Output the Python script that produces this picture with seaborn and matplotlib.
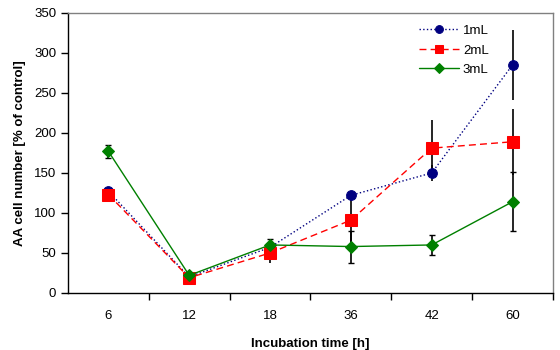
import matplotlib
matplotlib.use("Agg")
from matplotlib import pyplot as plt
import seaborn as sns
import pandas as pd

# incubation time categories
times = ['6', '12', '18', '36', '42', '60']

ml1 = [127, 20, 57, 122, 150, 285]
ml1_err = [3, 2, 5, 5, 10, 44]
ml2 = [123, 19, 50, 91, 181, 189]
ml2_err = [3, 2, 12, 30, 35, 41]
ml3 = [177, 22, 60, 58, 60, 114]
ml3_err = [8, 2, 7, 20, 12, 37]

sns.set_style("ticks")
plt.rcParams['font.family'] = ['Liberation Sans', 'DejaVu Sans']
for key in ['text.color', 'axes.labelcolor', 'xtick.color', 'ytick.color']:
    plt.rcParams[key] = 'black'

fig = plt.figure(figsize=(5.6, 3.5), dpi=100)
axes = fig.add_axes([0.1214, 0.163, 0.866, 0.8])

pos = list(range(len(times)))
series = [
    ('1mL', ml1, ml1_err, '#000080', ':', 'o', 7, 0),
    ('2mL', ml2, ml2_err, '#FF0000', (0, (5, 3)), 's', 8, 0),
    ('3mL', ml3, ml3_err, '#008000', '-', 'D', 6.5, 2.5),
]

for name, vals, errs, color, ls, mk, ms, cap in series:
    axes.errorbar(pos, vals, yerr=errs, fmt='none', ecolor='black',
                  elinewidth=1.2, capsize=cap, capthick=1.0, zorder=2)

for name, vals, errs, color, ls, mk, ms, cap in series:
    df = pd.DataFrame({'x': pos, 'y': vals})
    sns.lineplot(data=df, x='x', y='y', ax=axes, color=color,
                 linestyle=ls, linewidth=1.0, marker=mk, markersize=ms,
                 markeredgecolor=color, label=name, zorder=3)

axes.set_xlim(-0.5, len(times) - 0.5)
axes.set_ylim(0, 350)
axes.set_yticks(range(0, 351, 50))
axes.set_xticks([p + 0.5 for p in pos])
axes.set_xticklabels([])
axes.set_xticks(pos, minor=True)
axes.set_xticklabels(times, minor=True)
axes.tick_params(axis='x', which='minor', length=0, pad=12, labelsize=9.5)
axes.tick_params(axis='x', which='major', length=5, width=1, color='black')
axes.tick_params(axis='y', length=5, width=1, color='black', labelsize=9.5)

for side in ['left', 'bottom']:
    axes.spines[side].set_color('black')
    axes.spines[side].set_linewidth(1.0)
for side in ['top', 'right']:
    axes.spines[side].set_visible(True)
    axes.spines[side].set_color('#808080')
    axes.spines[side].set_linewidth(1.0)

axes.set_xlabel('Incubation time [h]', fontweight='bold', fontsize=9.5, labelpad=12)
axes.set_ylabel('AA cell number [% of control]', fontweight='bold', fontsize=9.5, labelpad=6)

axes.legend(loc='upper left', bbox_to_anchor=(0.7, 1.0), frameon=False,
            handlelength=3.0, fontsize=9.5, labelspacing=0.55, handletextpad=0.3,
            markerscale=0.8)

fig.savefig('out.png', dpi=100)
